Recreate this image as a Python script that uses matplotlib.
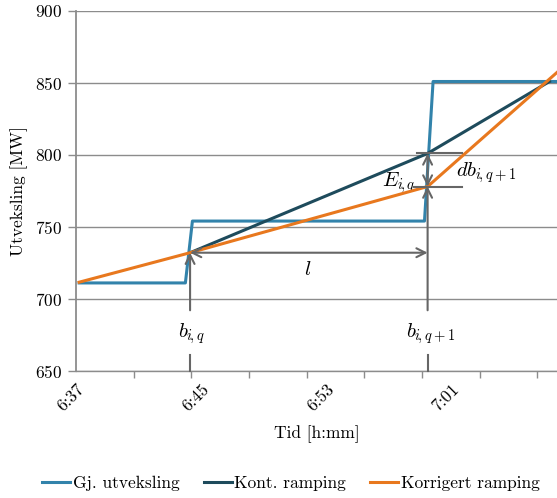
import numpy as np
import matplotlib
matplotlib.use('Agg')
import matplotlib.pyplot as plt

# Tid i minutter etter 6:37
tid_gj = [0.2, 7.0, 7.45, 22.3, 22.85, 30.8]
gj_utveksling = [711, 711, 754, 754, 851, 851]

tid_kont = [7.3, 22.5, 30.3]
kont_ramping = [732, 801, 851]

tid_korr = [0.2, 7.3, 22.5, 30.8]
korr_ramping = [711.5, 732, 778, 857.5]

tick_min = [0, 8, 16, 24]
tick_labels = ['6:37', '6:45', '6:53', '7:01']

plt.rcParams['font.family'] = 'serif'
plt.rcParams['font.serif'] = ['cmr10']
plt.rcParams['mathtext.fontset'] = 'cm'
plt.rcParams['axes.unicode_minus'] = False
plt.rcParams['axes.formatter.use_mathtext'] = True

c_gj = '#3283ab'
c_kont = '#1e4b5c'
c_korr = '#e8781e'
grey = '#666666'
fs = 12.5

fig = plt.figure(figsize=(5.57, 4.98), dpi=100)
ax = fig.add_axes([76 / 557, 1 - 370.7 / 498, 1 - 76 / 557, 359.7 / 498])

ax.plot(tid_gj, gj_utveksling, color=c_gj, lw=2.2, label='Gj. utveksling', zorder=3)
ax.plot(tid_kont, kont_ramping, color=c_kont, lw=2.2, label='Kont. ramping', zorder=3)
ax.plot(tid_korr, korr_ramping, color=c_korr, lw=2.2, label='Korrigert ramping', zorder=4)

ax.set_xlim(0, 30.78)
ax.set_ylim(650, 900)
ax.set_yticks(np.arange(650, 901, 50))
ax.yaxis.grid(True, color='#8c8c8c', lw=1.0)
ax.set_axisbelow(True)

ax.set_xticks(tick_min, tick_labels, rotation=45, ha='right', va='top',
              rotation_mode='anchor')
ax.set_xticks(np.arange(0, 31, 3.69), minor=True)
ax.tick_params(axis='x', which='major', length=0, pad=8, labelsize=fs)
ax.tick_params(axis='x', which='minor', length=5, width=1, color='#8c8c8c', direction='out')
ax.tick_params(axis='y', length=6, width=1, color='#8c8c8c', labelsize=fs, pad=4)

for side in ['top', 'right']:
    ax.spines[side].set_visible(False)
ax.spines['left'].set_color('#8c8c8c')
ax.spines['left'].set_linewidth(1.3)
ax.spines['bottom'].set_color('#8c8c8c')
ax.spines['bottom'].set_linewidth(1.0)

ax.set_xlabel('Tid [h:mm]', fontsize=fs, labelpad=8)
ax.set_ylabel('Utveksling [MW]', fontsize=fs, labelpad=5)

# Markeringer: b_{i,q}, b_{i,q+1}, l og E_{i,q}
b_q, b_q1 = tid_kont[0], tid_kont[1]
start_nivaa = kont_ramping[0]
kont_slutt, korr_slutt = kont_ramping[1], korr_ramping[2]
pil = dict(arrowstyle='->', color=grey, lw=1.5, mutation_scale=16, shrinkA=0, shrinkB=0)
pil2 = dict(arrowstyle='<->', color=grey, lw=1.5, mutation_scale=16, shrinkA=0, shrinkB=0)

for b, topp in [(b_q, start_nivaa), (b_q1, korr_slutt)]:
    ax.plot([b, b], [650, 661], color=grey, lw=1.5, zorder=5, clip_on=False)
    ax.annotate('', xy=(b, topp), xytext=(b, 692), arrowprops=pil, zorder=5)

ax.annotate('', xy=(b_q1, start_nivaa), xytext=(b_q, start_nivaa), arrowprops=pil2, zorder=5)
ax.annotate('', xy=(b_q1, kont_slutt), xytext=(b_q1, korr_slutt), arrowprops=pil2, zorder=5)
ax.plot([21.8, 24.7], [kont_slutt, kont_slutt], color=grey, lw=1.5, zorder=5)
ax.plot([21.6, 24.7], [korr_slutt, korr_slutt], color=grey, lw=1.5, zorder=5)

ax.text(b_q + 0.1, 676, r'$b_{i\!,q}$', fontsize=15, ha='center', va='center')
ax.text(b_q1 + 0.2, 676, r'$b_{i\!,q+1}$', fontsize=15, ha='center', va='center')
ax.text(14.8, 720, r'$l$', fontsize=15, ha='center', va='center')
ax.text(21.7, 781, r'$E_{i\!,q}$', fontsize=15, ha='right', va='center')
ax.text(24.3, 788, r'$db_{i\!,q+1}$', fontsize=15, ha='left', va='center')

fig.legend(loc='center', bbox_to_anchor=(291 / 557, 1 - 483 / 498), ncol=3, frameon=False,
           fontsize=fs, handlelength=1.6, handletextpad=0.15, columnspacing=1.4)

fig.savefig('out.png', dpi=100)
